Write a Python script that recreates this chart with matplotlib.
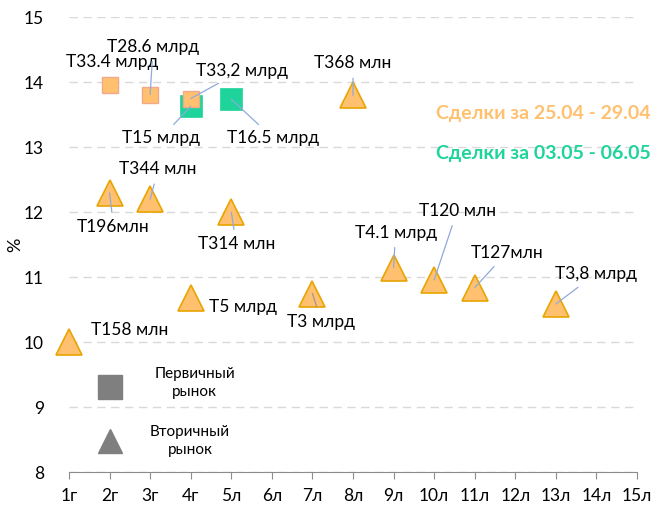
import matplotlib
matplotlib.use("Agg")
import matplotlib.pyplot as plt

plt.rcParams['font.family'] = ['Lato', 'DejaVu Sans']

# x categories
tick_labels = ["1г", "2г", "3г", "4г", "5л", "6л", "7л", "8л", "9л", "10л", "11л", "12л", "13л", "14л", "15л"]

# Primary market (squares), week 25.04-29.04 (orange)
sq1_x = [2, 3, 4]
sq1_y = [13.96, 13.81, 13.75]
sq1_lbl = ["T33.4 млрд", "T28.6 млрд", "T33,2 млрд"]

# Primary market (squares), week 03.05-06.05 (green)
sq2_x = [4, 5]
sq2_y = [13.63, 13.74]
sq2_lbl = ["T15 млрд", "T16.5 млрд"]

# Secondary market (triangles), week 25.04-29.04 (orange)
tr_x = [1, 2, 3, 4, 5, 7, 8, 9, 10, 11, 13]
tr_y = [10.0, 12.3, 12.2, 10.68, 12.0, 10.75, 13.8, 11.15, 10.96, 10.84, 10.59]
tr_lbl = ["T158 млн", "T196млн", "T344 млн", "T5 млрд", "T314 млн", "T3 млрд",
          "T368 млн", "T4.1 млрд", "T120 млн", "T127млн", "T3,8 млрд"]

# label offsets (pixels) and whether a leader line is drawn
sq1_off = [(3, 23), (3, 48), (51, 28)]
sq1_lead = [False, True, True]
sq2_off = [(-30, -32), (42, -39)]
sq2_lead = [True, True]
tr_off = [(61, 12), (4, -34), (8, 30), (52, -9), (5, -32), (9, -28),
          (0, 32), (2, 35), (23, 69), (32, 35), (40, 30)]
tr_lead = [False, True, True, False, True, True, True, True, True, True, True]

ORANGE = "#FFC170"
ORANGE_EDGE = "#E8A400"
SQ_EDGE = "#F4A88A"
GREEN = "#1ED49B"
LEAD = "#8FAADC"

fig = plt.figure(figsize=(6.54, 5.08), dpi=100)
ax = fig.add_axes([69 / 654, 1 - 472.3 / 508, (637 - 69) / 654, (472.3 - 17.3) / 508])
ax.set_xlim(1, 15)
ax.set_ylim(8, 15)

ax.plot(tr_x, tr_y, linestyle="none", marker="^", markersize=18.5, markerfacecolor=ORANGE,
        markeredgecolor=ORANGE_EDGE, markeredgewidth=1.2, zorder=3, clip_on=False)
ax.plot(sq2_x, sq2_y, linestyle="none", marker="s", markersize=16, markerfacecolor=GREEN,
        markeredgecolor=GREEN, markeredgewidth=0.5, zorder=3)
ax.plot(sq1_x, sq1_y, linestyle="none", marker="s", markersize=12, markerfacecolor=ORANGE,
        markeredgecolor=SQ_EDGE, markeredgewidth=1.0, zorder=4)


def label(xs, ys, lbls, offs, leads, lead_color=LEAD):
    for x, y, t, o, l in zip(xs, ys, lbls, offs, leads):
        kw = {}
        if l:
            col = "#999999" if t == "T3 млрд" else lead_color
            kw["arrowprops"] = dict(arrowstyle="-", color=col, lw=0.9, shrinkA=3, shrinkB=0)
        ax.annotate(t, xy=(x, y), xytext=o, textcoords="offset pixels", ha="center",
                    va="center", fontsize=12.5, color="#000000", zorder=6, **kw)


label(sq1_x, sq1_y, sq1_lbl, sq1_off, sq1_lead)
label(sq2_x, sq2_y, sq2_lbl, sq2_off, sq2_lead)
label(tr_x, tr_y, tr_lbl, tr_off, tr_lead)

# legend-like markers
ax.plot([2], [9.31], linestyle="none", marker="s", markersize=17, color="#7F7F7F", zorder=3)
ax.plot([2], [8.48], linestyle="none", marker="^", markersize=17.5, color="#7F7F7F", zorder=3)
ax.text(4.1, 9.38, "Первичный\nрынок", ha="center", va="center", fontsize=11, linespacing=1.35)
ax.text(3.98, 8.48, "Вторичный\nрынок", ha="center", va="center", fontsize=11, linespacing=1.35)

fig.text(651 / 654, 1 - 114 / 508, "Сделки за 25.04 - 29.04", ha="right", va="center",
         fontsize=14, fontweight="bold", color=ORANGE)
fig.text(651 / 654, 1 - 154 / 508, "Сделки за 03.05 - 06.05", ha="right", va="center",
         fontsize=14, fontweight="bold", color=GREEN)

ax.set_xticks(range(1, 16))
ax.set_xticklabels(tick_labels)
ax.set_yticks(range(8, 16))
ax.tick_params(axis="x", length=5, color="#8C8C8C", labelsize=12.5, pad=6)
ax.tick_params(axis="y", length=0, labelsize=12.5, pad=18)
for s in ["top", "right", "left"]:
    ax.spines[s].set_visible(False)
ax.spines["bottom"].set_color("#8C8C8C")
ax.grid(axis="y", color="#D9D9D9", linestyle=(0, (6, 4)), linewidth=1)
ax.set_axisbelow(True)
ax.set_ylabel("%", fontsize=13)
ax.yaxis.set_label_coords(-0.08, 0.5)

fig.savefig("out.png", dpi=100)
